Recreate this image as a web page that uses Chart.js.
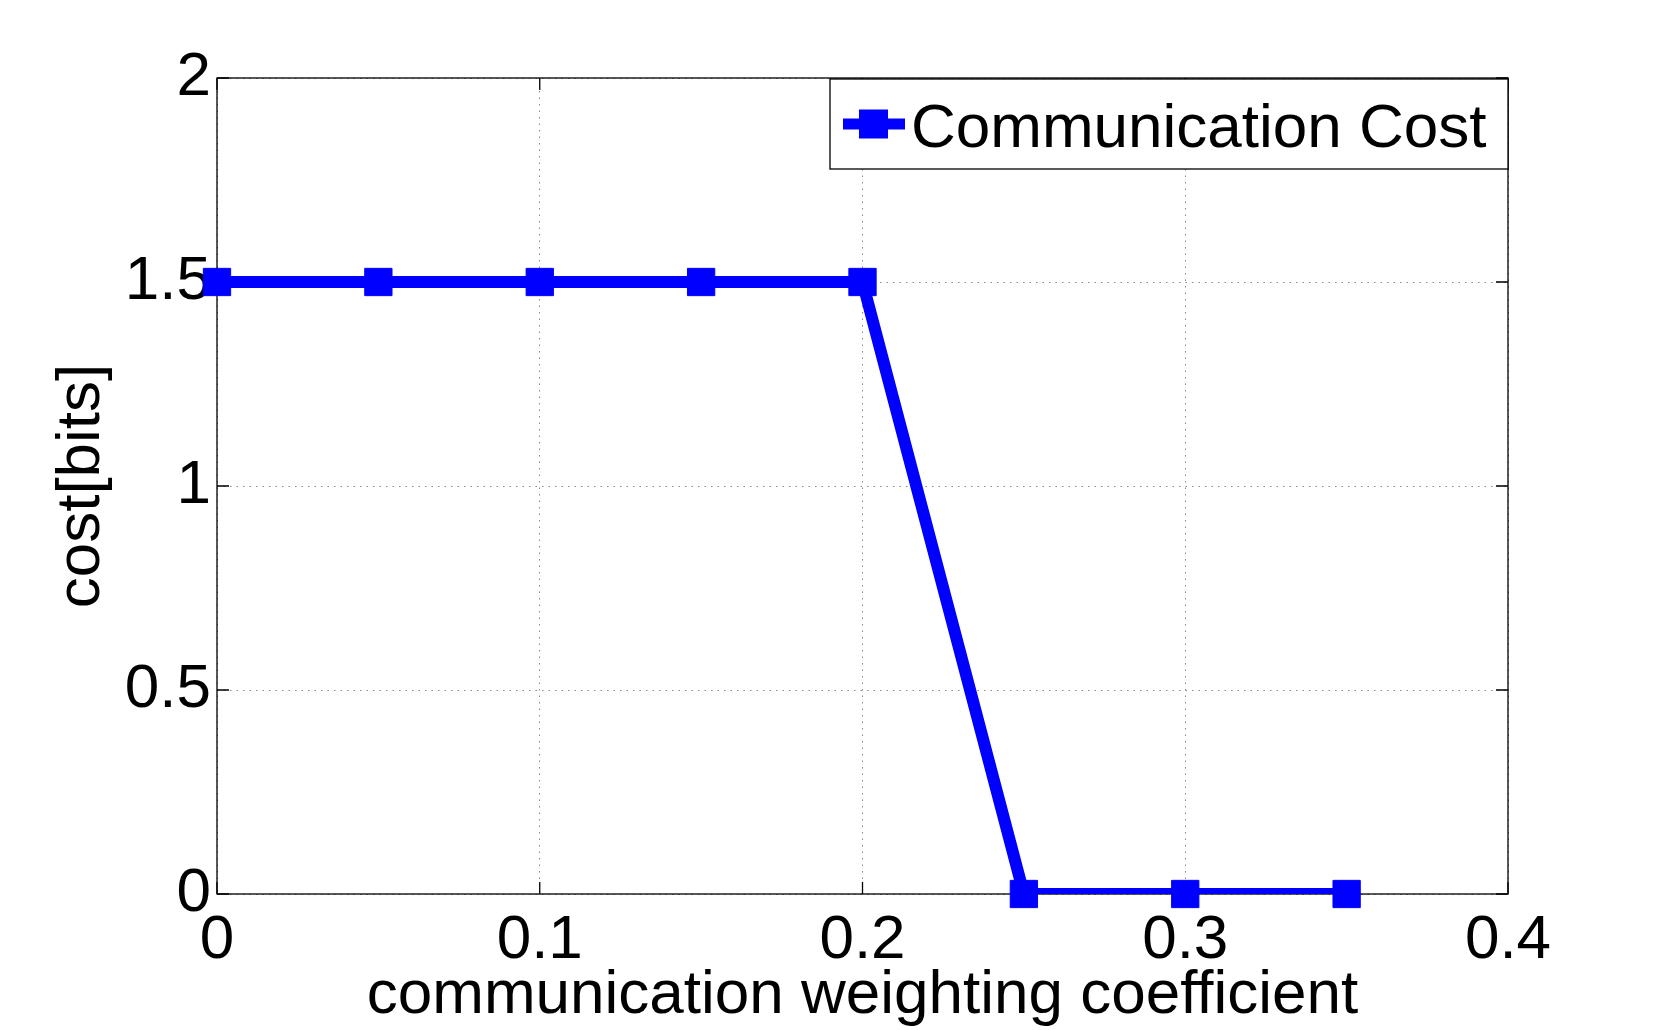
<!DOCTYPE html>
<html>
<head>
<meta charset="utf-8">
<script src="https://cdn.jsdelivr.net/npm/chart.js@4/dist/chart.umd.min.js"></script>
<style>
  html, body { margin: 0; padding: 0; background: #fff; }
</style>
</head>
<body>
<canvas id="costChart" width="1667" height="1030"></canvas>
<script>
var weights = [0, 0.05, 0.1, 0.15, 0.2, 0.25, 0.3, 0.35];
var costBits = [1.5, 1.5, 1.5, 1.5, 1.5, 0, 0, 0];
var xTicks = [0, 0.1, 0.2, 0.3, 0.4];
var yTicks = [0, 0.5, 1, 1.5, 2];
var seriesName = 'Communication Cost';
var xTitle = 'communication weighting coefficient';
var yTitle = 'cost[bits]';

var fontFam = '"Liberation Sans", Arial, Helvetica, sans-serif';
Chart.defaults.font.family = fontFam;
Chart.defaults.color = '#000';

var points = weights.map(function (w, i) { return { x: w, y: costBits[i] }; });

// matlab style box + inward ticks, drawn under the data
var frameBox = {
  id: 'frameBox',
  beforeDatasetsDraw: function (chart) {
    var a = chart.chartArea, ctx = chart.ctx;
    var xs = chart.scales.x, ys = chart.scales.y;
    var tl = 12;
    ctx.save();
    ctx.strokeStyle = '#000';
    ctx.lineWidth = 1.3;
    ctx.beginPath();
    xTicks.forEach(function (v) {
      var px = xs.getPixelForValue(v);
      ctx.moveTo(px, a.bottom); ctx.lineTo(px, a.bottom - tl);
      ctx.moveTo(px, a.top); ctx.lineTo(px, a.top + tl);
    });
    yTicks.forEach(function (v) {
      var py = ys.getPixelForValue(v);
      ctx.moveTo(a.left, py); ctx.lineTo(a.left + tl, py);
      ctx.moveTo(a.right, py); ctx.lineTo(a.right - tl, py);
    });
    ctx.stroke();
    ctx.strokeRect(a.left, a.top, a.right - a.left, a.bottom - a.top);
    ctx.restore();
  }
};

// legend box in the top right corner, line + square marker
var boxLegend = {
  id: 'boxLegend',
  afterDraw: function (chart) {
    var a = chart.chartArea, ctx = chart.ctx;
    var ds = chart.data.datasets[0];
    var w = 678, h = 90;
    var left = a.right - w, top = a.top + 1;
    var cy = top + h / 2;
    ctx.save();
    ctx.fillStyle = '#fff';
    ctx.fillRect(left, top, w, h);
    ctx.strokeStyle = '#000';
    ctx.lineWidth = 1.3;
    ctx.strokeRect(left, top, w, h);
    ctx.strokeStyle = ds.borderColor;
    ctx.lineWidth = 11;
    ctx.beginPath();
    ctx.moveTo(left + 13, cy);
    ctx.lineTo(left + 75, cy);
    ctx.stroke();
    ctx.fillStyle = ds.borderColor;
    ctx.fillRect(left + 29, cy - 14.5, 29, 29);
    ctx.fillStyle = '#000';
    ctx.font = '62px ' + fontFam;
    ctx.textBaseline = 'alphabetic';
    ctx.fillText(seriesName, left + 81, cy + 23);
    ctx.restore();
  }
};

var ctx = document.getElementById('costChart');
var config = {
  type: 'line',
  data: {
    datasets: [{
      label: seriesName,
      data: points,
      borderColor: '#0000ff',
      backgroundColor: '#0000ff',
      borderWidth: 12,
      pointRadius: 0,
      fill: false,
      clip: 0,
      order: 1
    }, {
      label: seriesName + ' markers',
      data: points,
      showLine: false,
      pointStyle: 'rect',
      pointRadius: 19.3,
      pointBorderWidth: 1,
      pointBackgroundColor: '#0000ff',
      pointBorderColor: '#0000ff',
      clip: false,
      order: 0
    }]
  },
  options: {
    responsive: false,
    devicePixelRatio: 1,
    animation: false,
    layout: { padding: { top: 78, right: 159, bottom: 0, left: 0 } },
    plugins: {
      legend: { display: false },
      tooltip: { enabled: false }
    },
    scales: {
      x: {
        type: 'linear',
        min: 0,
        max: 0.4,
        afterBuildTicks: function (scale) {
          scale.ticks = xTicks.map(function (v) { return { value: v }; });
        },
        afterFit: function (scale) { scale.height = 136; },
        ticks: {
          padding: 10,
          maxRotation: 0,
          font: { size: 62 },
          callback: function (v) { return String(v); }
        },
        grid: { color: '#8a8a8a', lineWidth: 1, drawTicks: false },
        border: { display: false, dash: [1.5, 5] },
        title: {
          display: true,
          text: xTitle,
          font: { size: 62, lineHeight: 1.1 },
          padding: { top: 0, bottom: 0 }
        }
      },
      y: {
        min: 0,
        max: 2,
        afterBuildTicks: function (scale) {
          scale.ticks = yTicks.map(function (v) { return { value: v }; });
        },
        afterFit: function (scale) { scale.width = 217; },
        ticks: {
          padding: 6,
          font: { size: 62 },
          callback: function (v) { return String(v); }
        },
        grid: { color: '#8a8a8a', lineWidth: 1, drawTicks: false },
        border: { display: false, dash: [1.5, 5] },
        title: {
          display: true,
          text: yTitle,
          font: { size: 62, lineHeight: 1.1 },
          padding: { top: 48, bottom: 0 }
        }
      }
    }
  },
  plugins: [frameBox, boxLegend]
};
var costChart = new Chart(ctx, config);
</script>
</body>
</html>
